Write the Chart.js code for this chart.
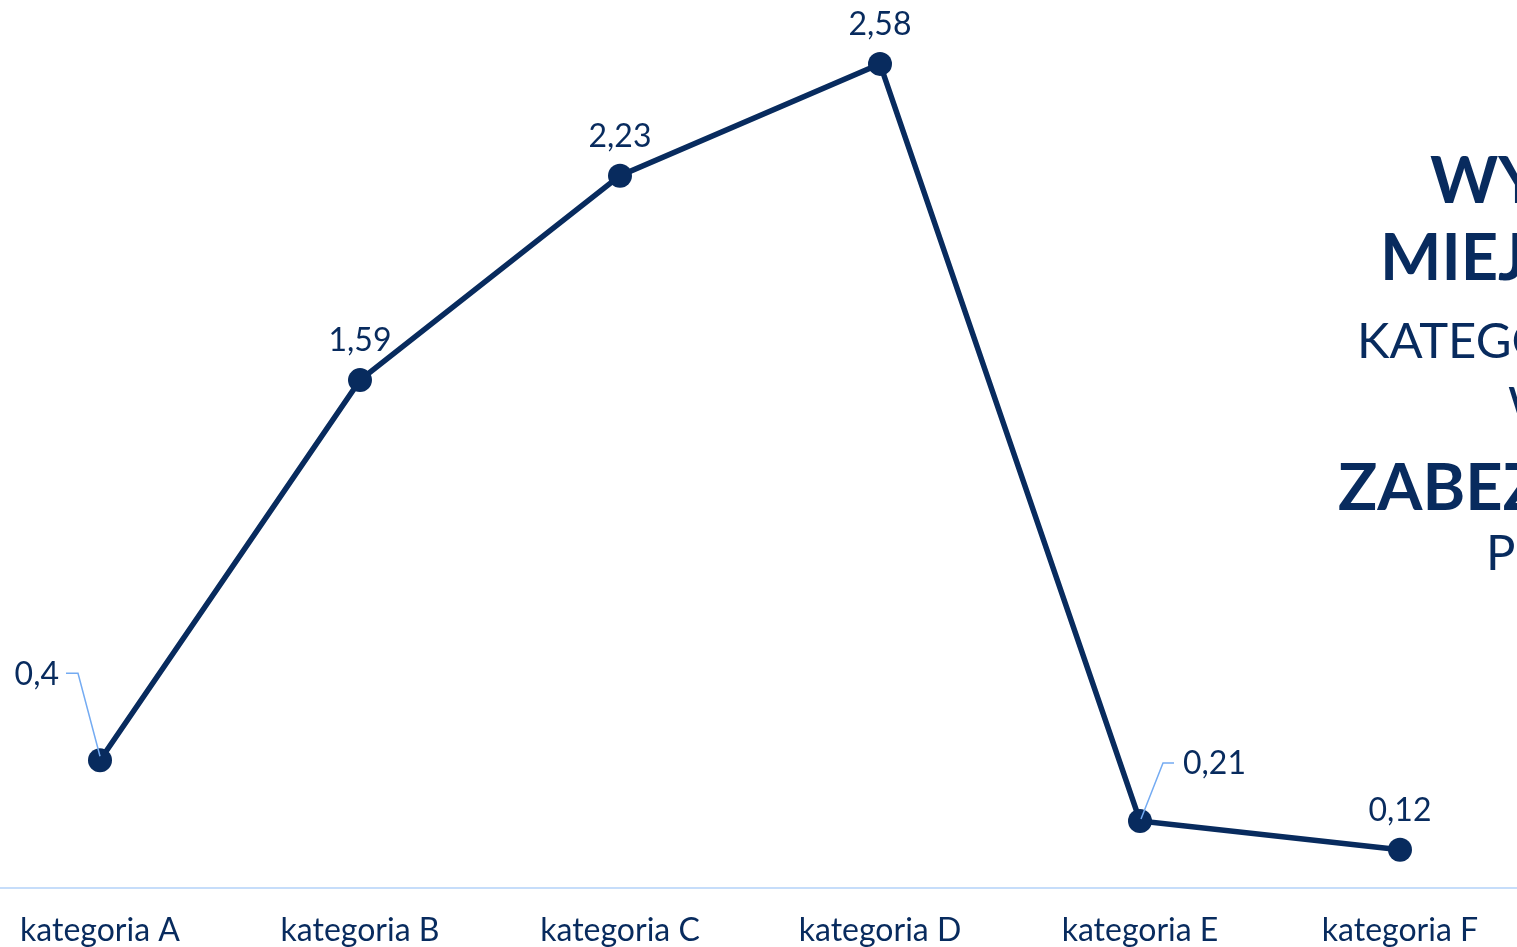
<!DOCTYPE html>
<html lang="pl">
<head>
<meta charset="utf-8">
<title>Wykres</title>
<script src="https://cdn.jsdelivr.net/npm/chart.js@4/dist/chart.umd.min.js"></script>
<style>
  html, body { margin: 0; padding: 0; background: #fff; overflow: hidden; }
  body { width: 1517px; height: 947px; position: relative; }
  #chart { position: absolute; left: -30px; top: 0; }
</style>
</head>
<body>
<canvas id="chart" width="1560" height="947"></canvas>
<script>
const categories = ['kategoria A', 'kategoria B', 'kategoria C', 'kategoria D', 'kategoria E', 'kategoria F'];
const values = [0.4, 1.59, 2.23, 2.58, 0.21, 0.12];
const valueLabels = ['0,4', '1,59', '2,23', '2,58', '0,21', '0,12'];
const titleLines = [
  { text: 'WYDATKI', bold: true },
  { text: 'MIEJSKIE', bold: true },
  { text: 'KATEGORIE', bold: false },
  { text: 'W', bold: false },
  { text: 'ZABEZPIECZENIU', bold: true },
  { text: 'PUBLICZNYM', bold: false }
];

const navy = '#082b5e';
const leaderBlue = '#74abf2';

// labels above points; two of them sit beside the point with a thin leader line
const labelPlugin = {
  id: 'valueLabels',
  afterDatasetsDraw(chart) {
    const ctx = chart.ctx;
    const pts = chart.getDatasetMeta(0).data;
    ctx.save();
    ctx.font = '32px Lato';
    ctx.fillStyle = navy;
    pts.forEach((p, i) => {
      const txt = valueLabels[i];
      if (i === 0) {
        ctx.strokeStyle = leaderBlue;
        ctx.lineWidth = 1.5;
        ctx.beginPath();
        ctx.moveTo(p.x, p.y - 4);
        ctx.lineTo(p.x - 22, p.y - 87);
        ctx.lineTo(p.x - 34, p.y - 87);
        ctx.stroke();
        ctx.textAlign = 'right';
        ctx.textBaseline = 'middle';
        ctx.fillText(txt, p.x - 41, p.y - 86);
      } else if (i === 4) {
        ctx.strokeStyle = leaderBlue;
        ctx.lineWidth = 1.5;
        ctx.beginPath();
        ctx.moveTo(p.x + 1, p.y - 2);
        ctx.lineTo(p.x + 23, p.y - 58);
        ctx.lineTo(p.x + 34, p.y - 58);
        ctx.stroke();
        ctx.textAlign = 'left';
        ctx.textBaseline = 'middle';
        ctx.fillText(txt, p.x + 43, p.y - 57);
      } else {
        ctx.textAlign = 'center';
        ctx.textBaseline = 'middle';
        ctx.fillText(txt, p.x, p.y - 39);
      }
    });
    ctx.restore();
  }
};

// heading on the right side
const titlePlugin = {
  id: 'sideTitle',
  afterDraw(chart) {
    const ctx = chart.ctx;
    const pos = [
      { x: 1460, y: 203, size: 65 },
      { x: 1410, y: 280, size: 65 },
      { x: 1387, y: 358, size: 49 },
      { x: 1538, y: 422, size: 49 },
      { x: 1368, y: 510, size: 65 },
      { x: 1516, y: 570, size: 49 }
    ];
    ctx.save();
    ctx.fillStyle = navy;
    ctx.textAlign = 'left';
    ctx.textBaseline = 'alphabetic';
    titleLines.forEach((line, i) => {
      ctx.font = (line.bold ? 'bold ' : '') + pos[i].size + 'px Lato';
      ctx.fillText(line.text, pos[i].x, pos[i].y);
    });
    ctx.restore();
  }
};

new Chart(document.getElementById('chart'), {
  type: 'line',
  data: {
    labels: categories,
    datasets: [{
      data: values,
      borderColor: navy,
      backgroundColor: navy,
      borderWidth: 5.5,
      pointRadius: 12,
      pointHoverRadius: 12,
      pointBackgroundColor: navy,
      pointBorderWidth: 0,
      tension: 0,
      clip: false
    }]
  },
  options: {
    responsive: false,
    animation: false,
    devicePixelRatio: 1,
    layout: { padding: 0, autoPadding: false },
    plugins: {
      legend: { display: false },
      tooltip: { enabled: false }
    },
    scales: {
      x: {
        offset: true,
        grid: { display: false, drawTicks: false },
        border: { display: true, color: '#c6ddfa', width: 2 },
        ticks: {
          color: navy,
          font: { family: 'Lato', size: 32 },
          padding: 23
        },
        afterFit(scale) { scale.height = 59; }
      },
      y: {
        display: false,
        min: 0,
        max: 2.78
      }
    }
  },
  plugins: [labelPlugin, titlePlugin]
});
</script>
</body>
</html>
